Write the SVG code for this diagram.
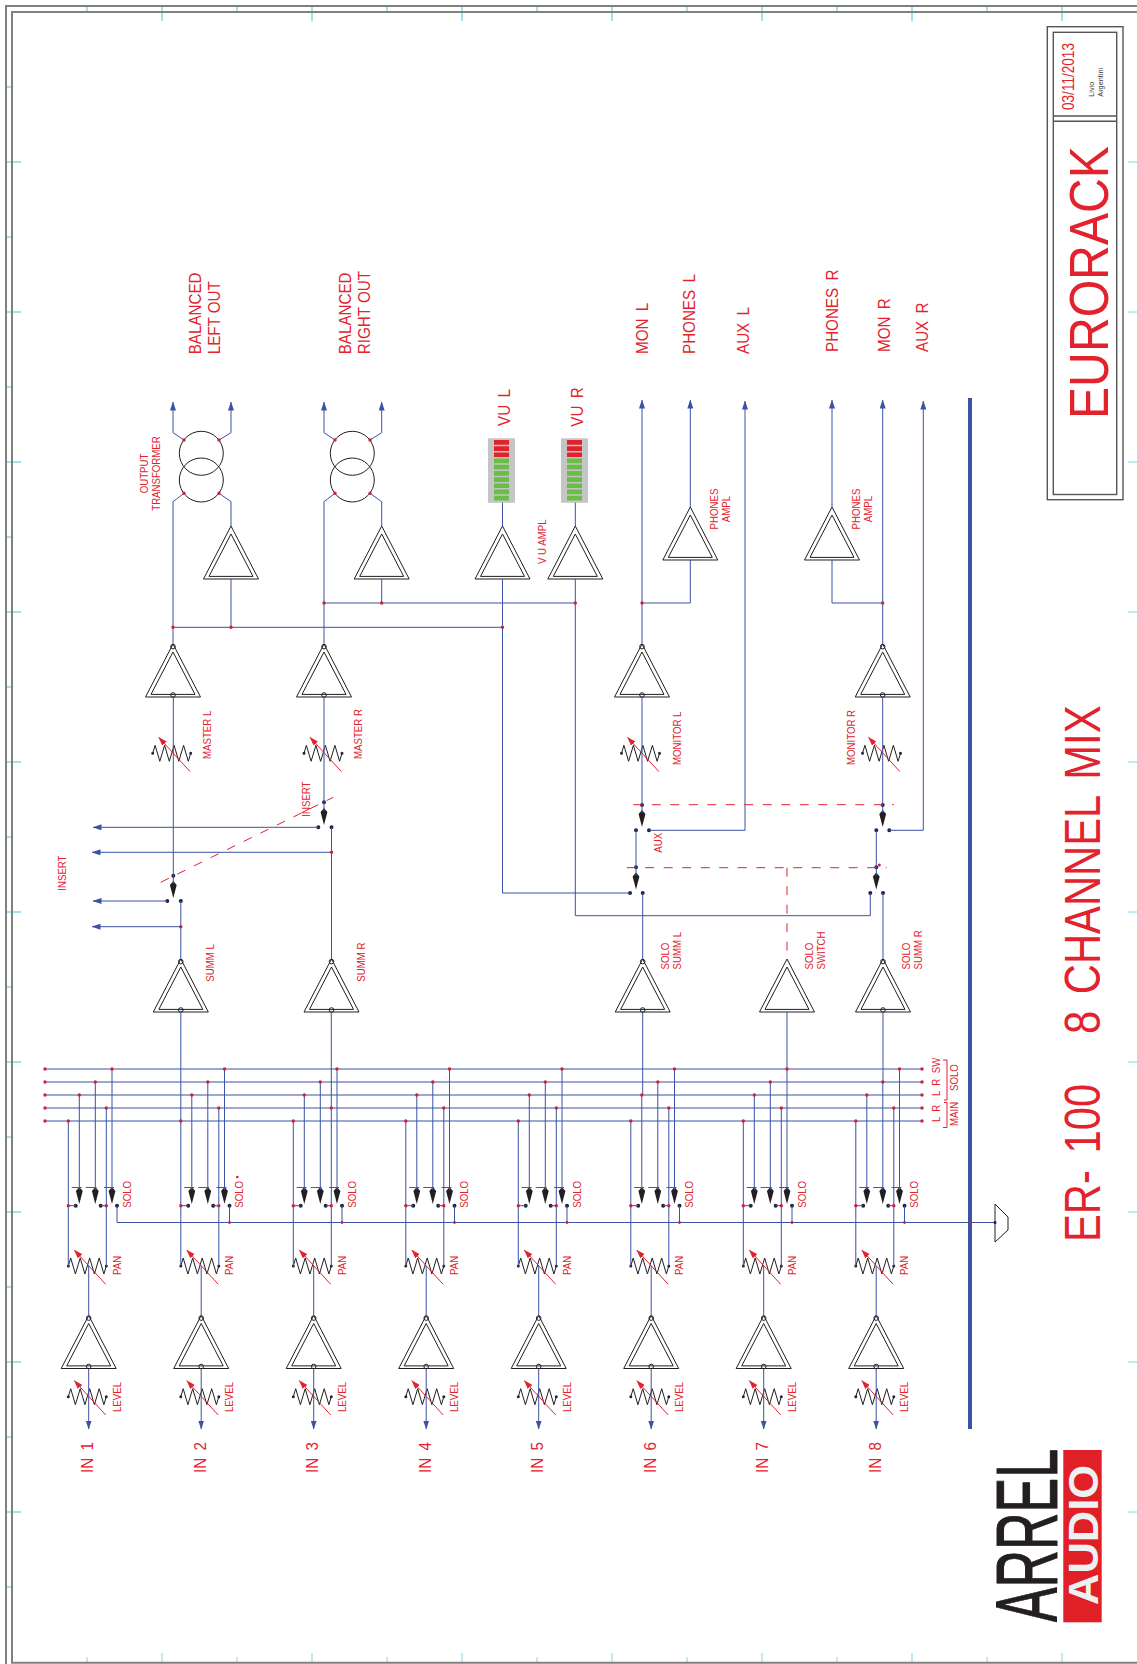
<svg xmlns="http://www.w3.org/2000/svg" width="1137" height="1664" viewBox="0 0 1137 1664">
<style>
text{font-family:"Liberation Sans",Arial,sans-serif;fill:#e2232e}
.t{font-size:11.5px}
.b{font-size:17px;word-spacing:3.5px}
.w{fill:none;stroke:#3a53a4;stroke-width:1}
.a{marker-end:url(#ab)}
.j{fill:none;stroke:#cf2136;stroke-width:3.4;stroke-linecap:round}
.c{fill:none;stroke:#1d2444;stroke-width:4;stroke-linecap:round}
.k{fill:none;stroke:#231f20;stroke-width:1}
.r{fill:none;stroke:#e2232e;stroke-width:1}
.d{fill:none;stroke:#e2232e;stroke-width:1;stroke-dasharray:9 9.5}
.f{fill:none;stroke:#808080;stroke-width:2}
.g{fill:none;stroke:#a5e0ea;stroke-width:2}
.g1{fill:none;stroke:#7fd6e3;stroke-width:1}
.bx{fill:none;stroke:#555;stroke-width:1.4}
</style>
<defs>
<marker id="ab" markerUnits="userSpaceOnUse" markerWidth="9" markerHeight="6" refX="8.5" refY="3" orient="auto"><path d="M0 0L9 3L0 6Z" fill="#3a53a4"/></marker>
<marker id="ar" markerUnits="userSpaceOnUse" markerWidth="9" markerHeight="6" refX="8.5" refY="3" orient="auto"><path d="M0 0L9 3L0 6Z" fill="#e2232e"/></marker>
<g id="amp"><path class="k" d="M0 0L-27.5 53H27.5ZM0 8L-22 50.4H22Z"/></g>
<g id="ampo"><use href="#amp"/><circle class="k" cx="0" cy="2.6" r="2.3"/><circle class="k" cx="0" cy="51" r="2.3"/></g>
<g id="res"><path class="k" d="M-19 0L-16.6 -8L-11.9 8L-7.1 -8L-2.4 8L2.4 -8L7.1 8L11.9 -8L16.6 8L19 0"/><path class="c" style="stroke-width:3" d="M-19 0h.01M19 0h.01"/><path class="r" marker-end="url(#ar)" d="M18.4 18.3L-13 -16"/></g>
<path id="swa" fill="#231f20" d="M0 -3L3.4 1L0 14L-3.4 1Z"/>
<g id="vu"><rect width="27" height="64.5" fill="#c4c6c6"/><path fill="#e2232e" d="M6 1.7h15v4.7H6zM6 7.9h15v4.7H6zM6 14.1h15v4.7H6z"/><path fill="#6abd45" d="M6 20.3h15v4.7H6zM6 26.5h15v4.7H6zM6 32.7h15v4.7H6zM6 38.9h15v4.7H6zM6 45.1h15v4.7H6zM6 51.3h15v4.7H6zM6 57.5h15v4.7H6z"/></g>
<g id="chan"><use href="#res" x="87.3" y="1396.7"/><use href="#res" x="87.3" y="1266"/><use href="#ampo" x="88.7" y="1315.5"/><use href="#swa" x="79.3" y="1190"/><use href="#swa" x="95.3" y="1190"/><use href="#swa" x="112" y="1190"/><path class="r" d="M71.7 1187.5H81.7M85.7 1187.5H96.7M104 1187.5H114"/><path class="c" d="M75.7 1205.7h.01M100.7 1205.7h.01M117 1205.7h.01"/></g>
</defs>

<g id="frame">
<path class="g" d="M87 5V13M237 5V13M387 5V13M537 5V13M687 5V13M837 5V13M987 5V13M162 5V21M312 5V21M462 5V21M612 5V21M762 5V21M912 5V21M1062 5V21"/>
<path class="g" d="M5 87H13M5 237H13M5 387H13M5 537H13M5 687H13M5 837H13M5 987H13M5 1137H13M5 1287H13M5 1437H13M5 1587H13M5 162H21M5 312H21M5 462H21M5 612H21M5 762H21M5 912H21M5 1062H21M5 1212H21M5 1362H21M5 1512H21"/>
<path class="g1" d="M87 1657V1663M237 1657V1663M387 1657V1663M537 1657V1663M687 1657V1663M837 1657V1663M987 1657V1663M162 1653V1663M312 1653V1663M462 1653V1663M612 1653V1663M762 1653V1663M912 1653V1663M1062 1653V1663M1128 162H1137M1128 312H1137M1128 462H1137M1128 612H1137M1128 762H1137M1128 912H1137M1128 1062H1137M1128 1212H1137M1128 1362H1137M1128 1512H1137"/>
<path class="f" d="M1137 6H6V1664M1137 12H12V1662.8H1137"/>
</g>

<g id="channel-1"><use href="#chan"/><text class="t" transform="translate(120.7 1412) rotate(-90) scale(.84 1)">LEVEL</text><text class="t" transform="translate(120.7 1275) rotate(-90) scale(.84 1)">PAN</text><text class="t" transform="translate(130.7 1207.7) rotate(-90) scale(.84 1)">SOLO</text><text class="b" transform="translate(93 1473) rotate(-90) scale(.894 1)">IN 1</text></g>
<g id="channel-2" transform="translate(112.5 0)"><use href="#chan"/><text class="t" transform="translate(120.7 1412) rotate(-90) scale(.84 1)">LEVEL</text><text class="t" transform="translate(120.7 1275) rotate(-90) scale(.84 1)">PAN</text><text class="t" transform="translate(130.7 1207.7) rotate(-90) scale(.84 1)">SOLO</text><text class="b" transform="translate(93 1473) rotate(-90) scale(.894 1)">IN 2</text><path class="j" d="M124.8 1177h.01" style="stroke-width:2.6"/></g>
<g id="channel-3" transform="translate(225 0)"><use href="#chan"/><text class="t" transform="translate(120.7 1412) rotate(-90) scale(.84 1)">LEVEL</text><text class="t" transform="translate(120.7 1275) rotate(-90) scale(.84 1)">PAN</text><text class="t" transform="translate(130.7 1207.7) rotate(-90) scale(.84 1)">SOLO</text><text class="b" transform="translate(93 1473) rotate(-90) scale(.894 1)">IN 3</text></g>
<g id="channel-4" transform="translate(337.5 0)"><use href="#chan"/><text class="t" transform="translate(120.7 1412) rotate(-90) scale(.84 1)">LEVEL</text><text class="t" transform="translate(120.7 1275) rotate(-90) scale(.84 1)">PAN</text><text class="t" transform="translate(130.7 1207.7) rotate(-90) scale(.84 1)">SOLO</text><text class="b" transform="translate(93 1473) rotate(-90) scale(.894 1)">IN 4</text></g>
<g id="channel-5" transform="translate(450 0)"><use href="#chan"/><text class="t" transform="translate(120.7 1412) rotate(-90) scale(.84 1)">LEVEL</text><text class="t" transform="translate(120.7 1275) rotate(-90) scale(.84 1)">PAN</text><text class="t" transform="translate(130.7 1207.7) rotate(-90) scale(.84 1)">SOLO</text><text class="b" transform="translate(93 1473) rotate(-90) scale(.894 1)">IN 5</text></g>
<g id="channel-6" transform="translate(562.5 0)"><use href="#chan"/><text class="t" transform="translate(120.7 1412) rotate(-90) scale(.84 1)">LEVEL</text><text class="t" transform="translate(120.7 1275) rotate(-90) scale(.84 1)">PAN</text><text class="t" transform="translate(130.7 1207.7) rotate(-90) scale(.84 1)">SOLO</text><text class="b" transform="translate(93 1473) rotate(-90) scale(.894 1)">IN 6</text></g>
<g id="channel-7" transform="translate(675 0)"><use href="#chan"/><text class="t" transform="translate(120.7 1412) rotate(-90) scale(.84 1)">LEVEL</text><text class="t" transform="translate(120.7 1275) rotate(-90) scale(.84 1)">PAN</text><text class="t" transform="translate(130.7 1207.7) rotate(-90) scale(.84 1)">SOLO</text><text class="b" transform="translate(93 1473) rotate(-90) scale(.894 1)">IN 7</text></g>
<g id="channel-8" transform="translate(787.5 0)"><use href="#chan"/><text class="t" transform="translate(120.7 1412) rotate(-90) scale(.84 1)">LEVEL</text><text class="t" transform="translate(120.7 1275) rotate(-90) scale(.84 1)">PAN</text><text class="t" transform="translate(130.7 1207.7) rotate(-90) scale(.84 1)">SOLO</text><text class="b" transform="translate(93 1473) rotate(-90) scale(.894 1)">IN 8</text></g>

<g id="summ-l"><use href="#ampo" x="180.8" y="959"/><text class="t" transform="translate(214 981.7) rotate(-90) scale(.84 1)">SUMM L</text></g>
<g id="summ-r"><use href="#ampo" x="331.5" y="959"/><text class="t" transform="translate(365 981.7) rotate(-90) scale(.84 1)">SUMM R</text></g>
<g id="master-l"><use href="#ampo" x="173" y="644"/><use href="#res" x="171.7" y="753.3"/><text class="t" transform="translate(210.5 759) rotate(-90) scale(.84 1)">MASTER L</text></g>
<g id="master-r"><use href="#ampo" x="324" y="644"/><use href="#res" x="323" y="753.3"/><text class="t" transform="translate(361.5 759) rotate(-90) scale(.84 1)">MASTER R</text></g>
<g id="insert-l"><use href="#swa" x="173.3" y="884"/><path class="c" d="M167.3 901h.01M180.8 901h.01M173.3 875.7h.01"/><text class="t" transform="translate(65.5 890.7) rotate(-90) scale(.84 1)">INSERT</text></g>
<g id="insert-r"><use href="#swa" x="324" y="811"/><path class="c" d="M318.3 827.3h.01M331.5 827.3h.01M324 802.3h.01"/><text class="t" transform="translate(309.5 816.7) rotate(-90) scale(.84 1)">INSERT</text></g>
<g id="out-l"><use href="#amp" x="231" y="526"/><circle class="k" cx="201.3" cy="453.3" r="22"/><circle class="k" cx="201.3" cy="480" r="22"/><text class="t" text-anchor="middle" transform="translate(148.3 473.5) rotate(-90) scale(.84 1)">OUTPUT</text><text class="t" text-anchor="middle" transform="translate(160 473.5) rotate(-90) scale(.84 1)">TRANSFORMER</text><text class="b" transform="translate(200.5 354.3) rotate(-90) scale(.894 1)">BALANCED</text><text class="b" style="word-spacing:0" transform="translate(220 354.3) rotate(-90) scale(.894 1)">LEFT OUT</text></g>
<g id="out-r"><use href="#amp" x="381.7" y="526"/><circle class="k" cx="352.3" cy="453.3" r="22"/><circle class="k" cx="352.3" cy="480" r="22"/><text class="b" transform="translate(350.5 354.3) rotate(-90) scale(.894 1)">BALANCED</text><text class="b" style="word-spacing:0" transform="translate(370 354.3) rotate(-90) scale(.894 1)">RIGHT OUT</text></g>
<g id="vu-l"><use href="#amp" x="502.5" y="526"/><use href="#vu" x="488" y="438.3"/><text class="b" transform="translate(510 426) rotate(-90) scale(.894 1)">VU L</text></g>
<g id="vu-r"><use href="#amp" x="575.3" y="526"/><use href="#vu" x="561" y="438.3"/><text class="b" transform="translate(582.7 426.7) rotate(-90) scale(.894 1)">VU R</text><text class="t" transform="translate(545.7 564) rotate(-90) scale(.84 1)">V U AMPL</text></g>
<g id="monitor-l"><use href="#ampo" x="642" y="644"/><use href="#res" x="640.5" y="753.3"/><text class="t" transform="translate(680.5 765) rotate(-90) scale(.84 1)">MONITOR L</text></g>
<g id="monitor-r"><use href="#ampo" x="882.7" y="644"/><use href="#res" x="881.5" y="753.3"/><text class="t" transform="translate(855 765) rotate(-90) scale(.84 1)">MONITOR R</text></g>
<g id="phones-l"><use href="#amp" x="690.3" y="507"/><text class="t" text-anchor="middle" transform="translate(718.3 509) rotate(-90) scale(.84 1)">PHONES</text><text class="t" text-anchor="middle" transform="translate(730 509) rotate(-90) scale(.84 1)">AMPL</text></g>
<g id="phones-r"><use href="#amp" x="832" y="507"/><text class="t" text-anchor="middle" transform="translate(860 509) rotate(-90) scale(.84 1)">PHONES</text><text class="t" text-anchor="middle" transform="translate(872 509) rotate(-90) scale(.84 1)">AMPL</text></g>
<g id="switch-aux-l"><use href="#swa" x="642" y="813"/><path class="c" d="M642 805h.01M636 830.3h.01M649 830.3h.01"/><text class="t" transform="translate(661.7 852.7) rotate(-90) scale(.84 1)">AUX</text></g>
<g id="switch-aux-r"><use href="#swa" x="882.7" y="813"/><path class="c" d="M882.7 805h.01M876.3 830.3h.01M889.3 830.3h.01"/></g>
<g id="switch-solo-l"><use href="#swa" x="636" y="875.5"/><path class="c" d="M636 867.3h.01M630 893h.01M642.7 893h.01"/></g>
<g id="switch-solo-r"><use href="#swa" x="876.3" y="875.5"/><path class="c" d="M876.3 867.3h.01M870.3 893h.01M883 893h.01"/><path class="j" d="M879.3 865h.01" style="stroke-width:3"/></g>
<g id="solo-summ-l"><use href="#ampo" x="642.7" y="959"/><text class="t" transform="translate(669.3 969.5) rotate(-90) scale(.84 1)">SOLO</text><text class="t" transform="translate(681 969.5) rotate(-90) scale(.84 1)">SUMM L</text></g>
<g id="solo-switch"><use href="#amp" x="787" y="959"/><text class="t" transform="translate(812.7 969.5) rotate(-90) scale(.84 1)">SOLO</text><text class="t" transform="translate(825 969.5) rotate(-90) scale(.84 1)">SWITCH</text></g>
<g id="solo-summ-r"><use href="#ampo" x="883" y="959"/><text class="t" transform="translate(910 969.5) rotate(-90) scale(.84 1)">SOLO</text><text class="t" transform="translate(922.3 969.5) rotate(-90) scale(.84 1)">SUMM R</text></g>
<g id="output-labels"><text class="b" transform="translate(647.5 354) rotate(-90) scale(.894 1)">MON L</text><text class="b" transform="translate(695 354) rotate(-90) scale(.894 1)">PHONES L</text><text class="b" transform="translate(749 354) rotate(-90) scale(.894 1)">AUX L</text><text class="b" transform="translate(837.5 352) rotate(-90) scale(.894 1)">PHONES R</text><text class="b" transform="translate(889.5 352) rotate(-90) scale(.894 1)">MON R</text><text class="b" transform="translate(928 352) rotate(-90) scale(.894 1)">AUX R</text></g>
<g id="bus-labels"><text class="t" transform="translate(940 1073.3) rotate(-90) scale(.84 1)">SW</text><text class="t" style="word-spacing:3px" transform="translate(940 1096) rotate(-90) scale(.84 1)">L R</text><text class="t" style="word-spacing:3px" transform="translate(940 1122) rotate(-90) scale(.84 1)">L R</text><text class="t" transform="translate(958.3 1091) rotate(-90) scale(.84 1)">SOLO</text><text class="t" transform="translate(958.3 1126) rotate(-90) scale(.84 1)">MAIN</text><path class="r" d="M943 1060H947V1100H944M944 1102.5H947V1127.5H943"/></g>
<g id="ground"><path class="k" d="M995 1204L1008 1217V1230L995 1242Z"/></g>

<g id="connectors">
<path class="w" d="M45 1069H922M45 1082H922M45 1095H922M45 1108H922M45 1121H922"/>
<path class="w" d="M117 1205.7V1222.5H995"/>
<path class="w" d="M180.8 1012V1121M331.3 1012V1108M642.7 1012V1095M787 1012V1069M883 1012V1082"/>
<g id="channel-wires">
<path class="w a" d="M68.3 1121V1266M106.3 1108V1266M79.3 1095V1190M95.3 1082V1190M112 1069V1190M68.3 1205.7H75.7M100.7 1205.7H106.3M88.7 1266V1316M88.7 1369V1429"/>
<path class="w a" d="M180.8 1121V1266M218.8 1108V1266M191.8 1095V1190M207.8 1082V1190M224.5 1069V1190M180.8 1205.7H188.2M213.2 1205.7H218.8M229.5 1205.7V1222.5M201.2 1266V1316M201.2 1369V1429"/>
<path class="w a" d="M293.3 1121V1266M331.3 1108V1266M304.3 1095V1190M320.3 1082V1190M337 1069V1190M293.3 1205.7H300.7M325.7 1205.7H331.3M342 1205.7V1222.5M313.7 1266V1316M313.7 1369V1429"/>
<path class="w a" d="M405.8 1121V1266M443.8 1108V1266M416.8 1095V1190M432.8 1082V1190M449.5 1069V1190M405.8 1205.7H413.2M438.2 1205.7H443.8M454.5 1205.7V1222.5M426.2 1266V1316M426.2 1369V1429"/>
<path class="w a" d="M518.3 1121V1266M556.3 1108V1266M529.3 1095V1190M545.3 1082V1190M562 1069V1190M518.3 1205.7H525.7M550.7 1205.7H556.3M567 1205.7V1222.5M538.7 1266V1316M538.7 1369V1429"/>
<path class="w a" d="M630.8 1121V1266M668.8 1108V1266M641.8 1095V1190M657.8 1082V1190M674.5 1069V1190M630.8 1205.7H638.2M663.2 1205.7H668.8M679.5 1205.7V1222.5M651.2 1266V1316M651.2 1369V1429"/>
<path class="w a" d="M743.3 1121V1266M781.3 1108V1266M754.3 1095V1190M770.3 1082V1190M787 1069V1190M743.3 1205.7H750.7M775.7 1205.7H781.3M792 1205.7V1222.5M763.7 1266V1316M763.7 1369V1429"/>
<path class="w a" d="M855.8 1121V1266M893.8 1108V1266M866.8 1095V1190M882.8 1082V1190M899.5 1069V1190M855.8 1205.7H863.2M888.2 1205.7H893.8M904.5 1205.7V1222.5M876.2 1266V1316M876.2 1369V1429"/>
</g>
<path class="w" d="M173.3 697V884M324 697V811"/>
<path class="w a" d="M167.3 901H93"/>
<path class="w" d="M180.8 959V901"/>
<path class="w a" d="M180.8 926.7H92"/>
<path class="w a" d="M318.3 827.3H93"/>
<path class="w" d="M331.5 959V827.3"/>
<path class="w a" d="M331.5 852.3H92"/>
<path class="w" d="M173 644V501.7L184 493.3M219 493.3L231 501.7V526M231 579V627.3M173 627.3H502.5"/>
<path class="w a" d="M184 440L173 432.7V402"/>
<path class="w a" d="M219 440L231 432.7V402"/>
<path class="w" d="M324 644V501.7L335 493.3M370 493.3L381.7 501.7V526M381.7 579V603M324 603H575.3"/>
<path class="w a" d="M335 440L324 432.7V402"/>
<path class="w a" d="M370 440L381.7 432.7V402"/>
<path class="w" d="M502.5 502.7V526M502.5 579V893H630M575.3 502.7V526M575.3 579V915.7H870.3V893"/>
<path class="w a" d="M642 644V400"/>
<path class="w" d="M642 603H690.3V560"/>
<path class="w a" d="M690.3 507V400"/>
<path class="w" d="M642 697V813M636 830.3V875.5M642.7 959V893"/>
<path class="w a" d="M649 830.3H745V401"/>
<path class="w a" d="M882.7 644V400"/>
<path class="w" d="M882.7 603H832V560"/>
<path class="w a" d="M832 507V400"/>
<path class="w" d="M882.7 697V813M876.3 830.3V875.5M883 959V893"/>
<path class="w a" d="M889.3 830.3H923.3V401"/>
<path class="w" style="stroke-width:4" d="M970 398V1429"/>
<path class="d" d="M160.7 882.3L333.3 797.3"/>
<path class="d" d="M633.3 804.7H894"/>
<path class="d" d="M626.7 867.7H886.7"/>
<path class="d" d="M787 867.7V958"/>
<path class="j" d="M45 1069h.01M45 1082h.01M45 1095h.01M45 1108h.01M45 1121h.01M922 1069h.01M922 1082h.01M922 1095h.01M922 1108h.01M922 1121h.01"/>
<path class="j" d="M68.3 1121h.01M106.3 1108h.01M79.3 1095h.01M95.3 1082h.01M112 1069h.01M68.3 1205.7h.01M106.3 1205.7h.01M180.8 1121h.01M218.8 1108h.01M191.8 1095h.01M207.8 1082h.01M224.5 1069h.01M180.8 1205.7h.01M218.8 1205.7h.01M293.3 1121h.01M331.3 1108h.01M304.3 1095h.01M320.3 1082h.01M337 1069h.01M293.3 1205.7h.01M331.3 1205.7h.01M405.8 1121h.01M443.8 1108h.01M416.8 1095h.01M432.8 1082h.01M449.5 1069h.01M405.8 1205.7h.01M443.8 1205.7h.01M518.3 1121h.01M556.3 1108h.01M529.3 1095h.01M545.3 1082h.01M562 1069h.01M518.3 1205.7h.01M556.3 1205.7h.01M630.8 1121h.01M668.8 1108h.01M641.8 1095h.01M657.8 1082h.01M674.5 1069h.01M630.8 1205.7h.01M668.8 1205.7h.01M743.3 1121h.01M781.3 1108h.01M754.3 1095h.01M770.3 1082h.01M787 1069h.01M743.3 1205.7h.01M781.3 1205.7h.01M855.8 1121h.01M893.8 1108h.01M866.8 1095h.01M882.8 1082h.01M899.5 1069h.01M855.8 1205.7h.01M893.8 1205.7h.01"/>
<path class="j" style="stroke-width:2.8" d="M229.5 1222.5h.01M342 1222.5h.01M454.5 1222.5h.01M567 1222.5h.01M679.5 1222.5h.01M792 1222.5h.01M904.5 1222.5h.01M970 1222.5h.01"/>
<path class="j" d="M173 627.3h.01M231 627.3h.01M502.5 627.3h.01M324 603h.01M381.7 603h.01M575.3 603h.01M642 603h.01M882.7 603h.01M180.8 926.7h.01M331.5 852.3h.01M184 440h.01M219 440h.01M184 493.3h.01M219 493.3h.01M335 440h.01M370 440h.01M335 493.3h.01M370 493.3h.01"/>
<path class="c" style="stroke-width:3" d="M995 1222.5h.01"/>
</g>

<g id="title-block">
<rect class="bx" x="1047.3" y="26.7" width="75.7" height="473"/>
<rect class="bx" x="1053.3" y="32.3" width="63.4" height="462.2"/>
<path class="bx" d="M1053.3 116H1116.7M1053.3 121.3H1116.7"/>
<text transform="translate(1074 110) rotate(-90) scale(.85 1)" font-size="16">03/11/2013</text>
<text transform="translate(1093.7 96.7) rotate(-90)" font-size="7.3" style="fill:#333">Livio</text>
<text transform="translate(1102.7 96.7) rotate(-90)" font-size="7.3" style="fill:#333">Argentini</text>
<text transform="translate(1108 419) rotate(-90) scale(.86 1)" font-size="56">EURORACK</text>
</g>
<g id="main-title"><text transform="translate(1100 1242) rotate(-90) scale(.835 1)" font-size="50" style="white-space:pre;word-spacing:6px">ER- 100   8 CHANNEL MIX</text></g>
<g id="logo">
<rect x="1063.3" y="1450" width="38.4" height="172.3" fill="#e11f26"/>
<text transform="translate(1098 1605) rotate(-90) scale(1.035 1)" font-size="42" font-weight="700" style="fill:#eef1f1">AUDIO</text>
<text transform="translate(1057 1622) rotate(-90) scale(.59 1)" font-size="88" style="fill:#231f20;stroke:#231f20;stroke-width:1;stroke-linejoin:round">ARREL</text>
</g>
</svg>
